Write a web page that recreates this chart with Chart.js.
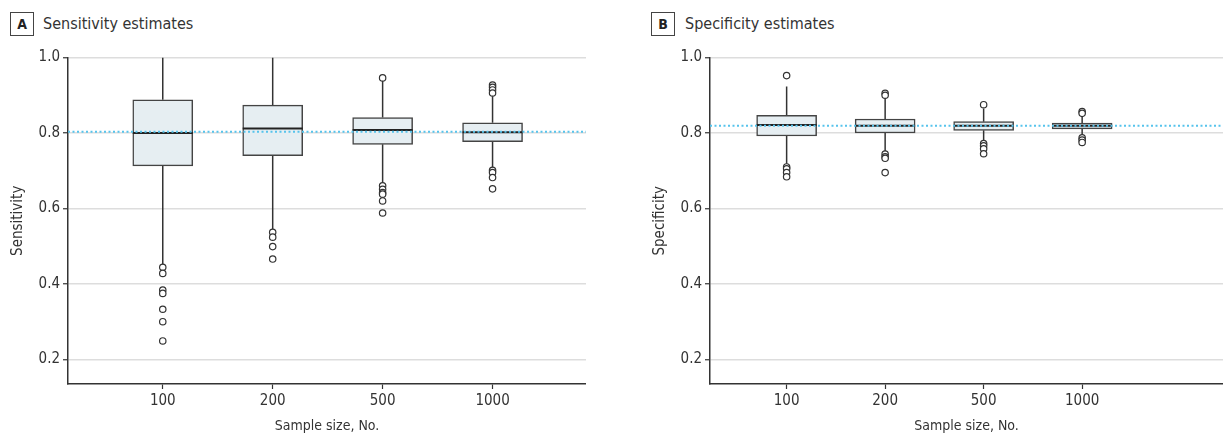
<!DOCTYPE html>
<html>
<head>
<meta charset="utf-8">
<script src="https://cdn.jsdelivr.net/npm/chart.js@4.4.1/dist/chart.umd.min.js"></script>
<style>
  html, body { margin:0; padding:0; background:#fff; }
  body { width:1223px; height:436px; position:relative; overflow:hidden;
         font-family:'Liberation Sans Narrow','DejaVu Sans Condensed','Roboto Condensed',sans-serif; color:#333; }
  canvas { position:absolute; top:0; }
  .lbl { position:absolute; top:12px; width:22px; height:22px; border:1px solid #444;
         font-weight:bold; font-size:14px; line-height:22px; text-align:center; color:#222; }
  .ttl { position:absolute; top:13px; font-size:16px; line-height:22px; color:#333; }
</style>
</head>
<body>
<div class="lbl" style="left:10px">A</div><div class="ttl" style="left:43px">Sensitivity estimates</div>
<div class="lbl" style="left:651px">B</div><div class="ttl" style="left:685px">Specificity estimates</div>
<canvas id="cA" width="586" height="436" style="left:0px;width:586px;height:436px"></canvas>
<canvas id="cB" width="581" height="436" style="left:642px;width:581px;height:436px"></canvas>
<script>
// ---- Data ----
const sampleSizes = ['100', '200', '500', '1000'];
const yTicks = [0.2, 0.4, 0.6, 0.8, 1.0];

const sensLo  = [0.450, 0.545, 0.662, 0.702];
const sensQ1  = [0.713, 0.740, 0.770, 0.777];
const sensMed = [0.800, 0.812, 0.808, 0.802];
const sensQ3  = [0.888, 0.874, 0.841, 0.827];
const sensHi  = [1.000, 1.000, 0.938, 0.900];
const sensOut = [
  [0.444, 0.428, 0.384, 0.375, 0.333, 0.300, 0.249],
  [0.537, 0.524, 0.499, 0.466],
  [0.946, 0.660, 0.651, 0.642, 0.638, 0.620, 0.588],
  [0.927, 0.921, 0.914, 0.906, 0.701, 0.695, 0.682, 0.652]
];
const sensRef = 0.803;

const specLo  = [0.712, 0.746, 0.777, 0.790];
const specQ1  = [0.792, 0.800, 0.807, 0.811];
const specMed = [0.821, 0.819, 0.819, 0.819];
const specQ3  = [0.847, 0.837, 0.830, 0.826];
const specHi  = [0.923, 0.892, 0.865, 0.848];
const specOut = [
  [0.952, 0.710, 0.705, 0.695, 0.684],
  [0.905, 0.900, 0.744, 0.737, 0.733, 0.695],
  [0.875, 0.772, 0.766, 0.758, 0.745],
  [0.857, 0.852, 0.787, 0.781, 0.775]
];
const specRef = 0.819;

// ---- Chart builder ----
const FONT = "'Liberation Sans Narrow','DejaVu Sans Condensed','Roboto Condensed',sans-serif";
Chart.defaults.font.family = FONT;
Chart.defaults.color = '#333';

function build(id, lo, q1, med, q3, hi, out, ref, yTitle, xMin, xMax) {
  const boxes = sampleSizes.map((s,i)=>({x:i, y:[q1[i], q3[i]]}));
  const whiskers = [];
  sampleSizes.forEach((s,i)=>{
    whiskers.push({x:i, y:q3[i]}, {x:i, y:hi[i]}, {x:i, y:null});
    whiskers.push({x:i, y:q1[i]}, {x:i, y:lo[i]}, {x:i, y:null});
  });
  const medians = sampleSizes.map((s,i)=>({x:i, y:med[i]}));
  const outliers = [];
  out.forEach((arr,i)=>arr.forEach(v=>outliers.push({x:i, y:v})));
  const refLine = [{x:xMin, y:ref}, {x:xMax, y:ref}];

  new Chart(document.getElementById(id), {
    type: 'bar',
    data: { datasets: [
      { type:'line', data: refLine, borderColor:'#56c3ec', borderWidth:2, borderDash:[2,2.5],
        pointRadius:0, order:0 },
      { type:'scatter', data: medians, pointStyle:'line', pointRadius:30, borderColor:'#222',
        borderWidth:2, order:1 },
      { type:'scatter', data: outliers, pointStyle:'circle', pointRadius:3.2, borderColor:'#333',
        backgroundColor:'#fff', borderWidth:1.2, order:2 },
      { type:'bar', data: boxes, backgroundColor:'#e6eef2', borderColor:'#444', borderWidth:1.5,
        borderSkipped:false, barThickness:60, order:3 },
      { type:'line', data: whiskers, borderColor:'#333', borderWidth:1.5, pointRadius:0,
        spanGaps:false, order:4 }
    ]},
    options: {
      responsive:false, animation:false,
      layout: { autoPadding:false, padding: { top:57.5, left:0, right:0, bottom:0 } },
      plugins: { legend:{display:false}, tooltip:{enabled:false} },
      scales: {
        x: {
          type:'linear', min:xMin, max:xMax, offset:false,
          afterBuildTicks: (sc)=>{ sc.ticks = sampleSizes.map((s,i)=>({value:i})); },
          afterFit: (sc)=>{ sc.height = 52; },
          ticks: { callback:(v)=>sampleSizes[v], font:{size:15}, color:'#333', padding:3, maxRotation:0 },
          grid: { drawOnChartArea:false, offset:false, tickLength:5, tickColor:'#333', tickWidth:1.2 },
          border: { color:'#333', width:1.5 },
          title: { display:true, text:'Sample size, No.', font:{size:14}, color:'#333',
                   padding:{top:0, bottom:1} }
        },
        y: {
          min:0.135, max:1.0,
          afterBuildTicks: (sc)=>{ sc.ticks = yTicks.map(v=>({value:v})); },
          afterFit: (sc)=>{ sc.width = 68; },
          ticks: { callback:(v)=>v.toFixed(1), font:{size:15}, color:'#333', padding:3 },
          grid: { color:'#dddddd', lineWidth:1.5, tickLength:5, tickColor:'#333', tickWidth:1.2 },
          border: { color:'#333', width:1.5 },
          title: { display:true, text:yTitle, font:{size:15}, color:'#333',
                   padding:{top:9, bottom:0} }
        }
      }
    }
  });
}

build('cA', sensLo, sensQ1, sensMed, sensQ3, sensHi, sensOut, sensRef, 'Sensitivity', -0.862, 3.85);
build('cB', specLo, specQ1, specMed, specQ3, specHi, specOut, specRef, 'Specificity', -0.778, 4.43);
</script>
</body>
</html>
